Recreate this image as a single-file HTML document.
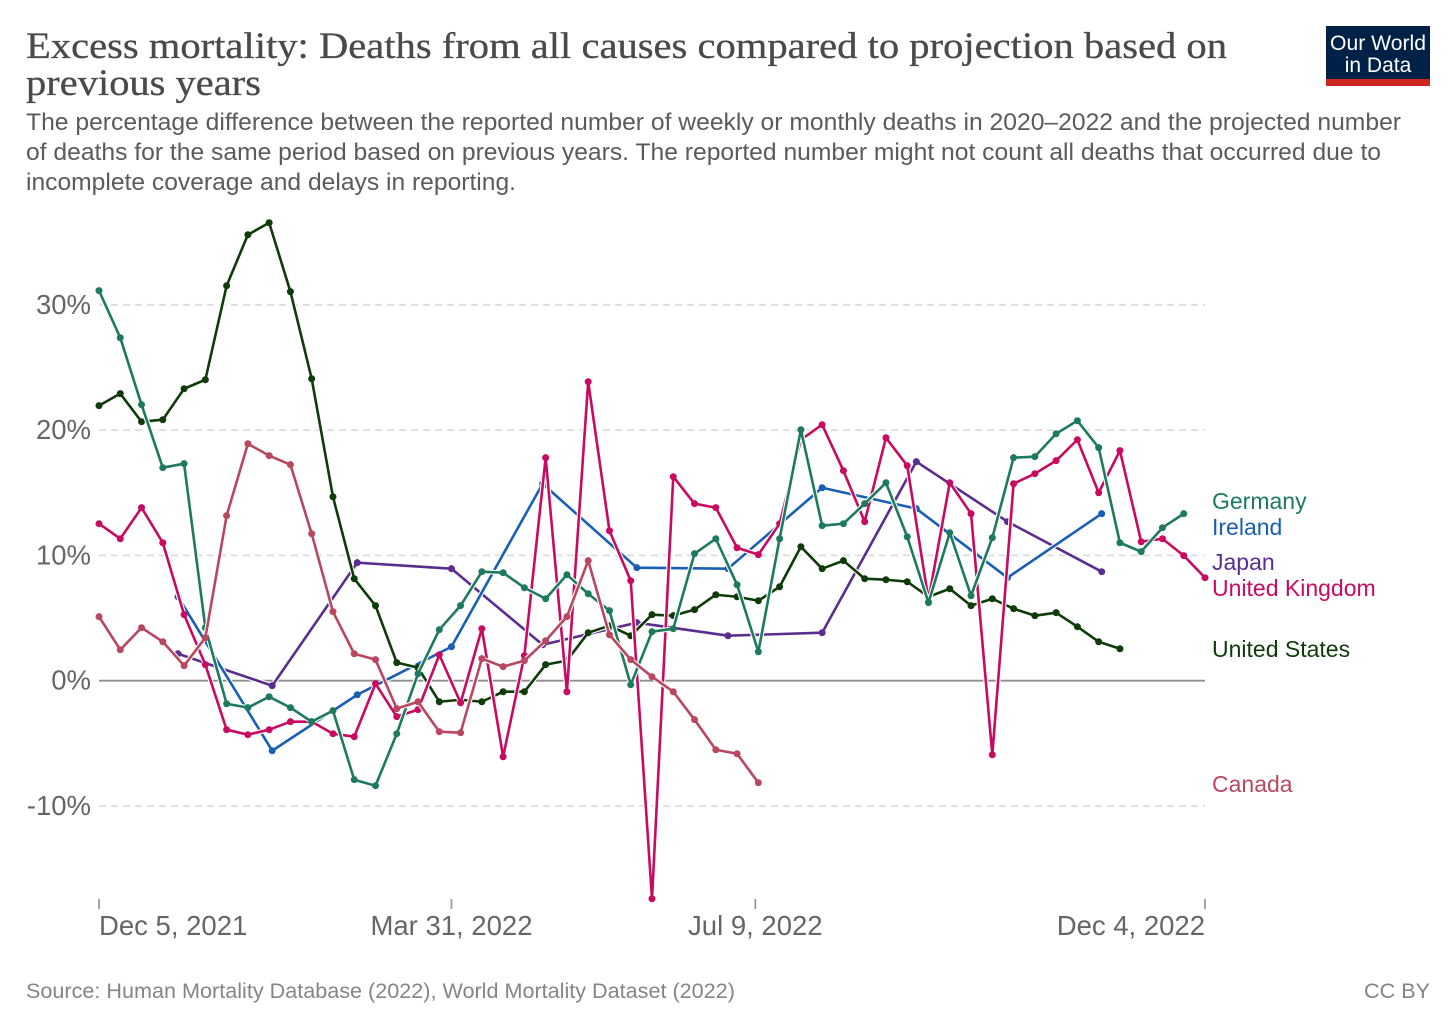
<!DOCTYPE html>
<html lang="en">
<head>
<meta charset="utf-8">
<title>Excess mortality chart</title>
<style>
html,body{margin:0;padding:0;background:#fff;}
svg{display:block;}
text{font-family:"Liberation Sans",sans-serif;}
</style>
</head>
<body>
<svg id="chart" xmlns="http://www.w3.org/2000/svg" width="1456" height="1028" viewBox="0 0 1456 1028">
  <rect x="0" y="0" width="1456" height="1028" fill="#ffffff"/>
  <g>
    <text x="26" y="58" textLength="1201" lengthAdjust="spacingAndGlyphs" style="font-family:'Liberation Serif',serif;font-size:37px" fill="#4a4a4a" stroke="#4a4a4a" stroke-width="0.3">Excess mortality: Deaths from all causes compared to projection based on</text>
    <text x="26" y="95" textLength="235" lengthAdjust="spacingAndGlyphs" style="font-family:'Liberation Serif',serif;font-size:37px" fill="#4a4a4a" stroke="#4a4a4a" stroke-width="0.3">previous years</text>
    <text x="26" y="130" textLength="1375" lengthAdjust="spacingAndGlyphs" font-size="24" fill="#5b5b5b">The percentage difference between the reported number of weekly or monthly deaths in 2020–2022 and the projected number</text>
    <text x="26" y="160" textLength="1355" lengthAdjust="spacingAndGlyphs" font-size="24" fill="#5b5b5b">of deaths for the same period based on previous years. The reported number might not count all deaths that occurred due to</text>
    <text x="26" y="190" textLength="490" lengthAdjust="spacingAndGlyphs" font-size="24" fill="#5b5b5b">incomplete coverage and delays in reporting.</text>
  </g>
  <g>
    <rect x="1326" y="26" width="104" height="60" fill="#002147"/>
    <rect x="1326" y="79" width="104" height="7" fill="#ce261e"/>
    <text x="1378" y="50" text-anchor="middle" font-size="21" fill="#ffffff" textLength="96" lengthAdjust="spacingAndGlyphs">Our World</text>
    <text x="1378" y="72" text-anchor="middle" font-size="21" fill="#ffffff">in Data</text>
  </g>
  <g id="grid"></g>
  <g id="yaxis"></g>
  <g id="xaxis"></g>
  <g id="series"></g>
  <g font-size="23">
    <text x="1212" y="509" fill="#1d7a5e">Germany</text>
    <text x="1212" y="535" fill="#1a5fb4">Ireland</text>
    <text x="1212" y="570" fill="#5b2d8e">Japan</text>
    <text x="1212" y="596" fill="#c80a60">United Kingdom</text>
    <text x="1212" y="657" fill="#0f3b0a">United States</text>
    <text x="1212" y="792" fill="#b8475f">Canada</text>
  </g>
  <g>
    <text x="26" y="998" font-size="21.6" fill="#858585">Source: Human Mortality Database (2022), World Mortality Dataset (2022)</text>
    <text x="1430" y="998" text-anchor="end" font-size="21.6" fill="#858585">CC BY</text>
  </g>
</svg>
<script>
const weeklyStart = '2021-12-05';
const monthlyDates = ['2021-12-31','2022-01-31','2022-02-28','2022-03-31','2022-04-30','2022-05-31','2022-06-30','2022-07-31','2022-08-31','2022-09-30','2022-10-31'];
const yTicks = [-10, 10, 20, 30];
const yTickLabels = ['-10%', '10%', '20%', '30%'];
const xTickDates = ['2021-12-05', '2022-03-31', '2022-07-09', '2022-12-04'];
const xTickLabels = ['Dec 5, 2021', 'Mar 31, 2022', 'Jul 9, 2022', 'Dec 4, 2022'];

const japanValues = [2.15, -0.4, 9.42, 8.94, 2.87, 4.63, 3.59, 3.83, 17.48, 12.69, 8.7];
const irelandValues = [6.7, -5.59, -1.12, 2.71, 15.72, 9.02, 8.94, 15.4, 13.73, 8.22, 13.33];
const unitedStatesValues = [21.95, 22.91, 20.67, 20.83, 23.3, 24.02, 31.52, 35.59, 36.55, 31.05, 24.1, 14.68, 8.14, 5.99, 1.44, 1.04, -1.68, -1.52, -1.68, -0.88, -0.88, 1.28, 1.6, 3.83, 4.39, 3.59, 5.27, 5.19, 5.67, 6.86, 6.7, 6.38, 7.5, 10.69, 8.94, 9.58, 8.14, 8.06, 7.9, 6.7, 7.34, 5.99, 6.54, 5.75, 5.19, 5.43, 4.31, 3.11, 2.55];
const unitedKingdomValues = [12.53, 11.33, 13.81, 11.01, 5.27, 1.28, -3.91, -4.31, -3.91, -3.27, -3.27, -4.23, -4.47, -0.24, -2.87, -2.31, 2.07, -1.76, 4.15, -6.07, 2.0, 17.8, -0.88, 23.86, 11.97, 7.98, -17.4, 16.28, 14.13, 13.81, 10.61, 10.06, 12.53, 19.23, 20.43, 16.76, 12.69, 19.39, 17.16, 6.46, 15.8, 13.33, -5.91, 15.72, 16.52, 17.56, 19.23, 15.0, 18.36, 11.09, 11.33, 9.98, 8.22];
const germanyValues = [31.13, 27.37, 22.03, 17.0, 17.32, 4.23, -1.84, -2.15, -1.28, -2.15, -3.27, -2.39, -7.9, -8.38, -4.23, 0.56, 4.07, 5.99, 8.7, 8.62, 7.42, 6.54, 8.46, 6.94, 5.59, -0.32, 3.91, 4.15, 10.14, 11.33, 7.66, 2.31, 11.33, 20.03, 12.37, 12.53, 14.13, 15.8, 11.49, 6.23, 11.81, 6.78, 11.41, 17.8, 17.88, 19.71, 20.75, 18.6, 11.01, 10.3, 12.21, 13.33];
const canadaValues = [5.11, 2.47, 4.23, 3.11, 1.2, 3.43, 13.17, 18.91, 17.96, 17.24, 11.73, 5.51, 2.15, 1.68, -2.23, -1.68, -4.07, -4.15, 1.76, 1.12, 1.6, 3.19, 5.11, 9.58, 3.67, 1.68, 0.32, -0.88, -3.11, -5.51, -5.83, -8.14];

const NS = 'http://www.w3.org/2000/svg';
const DAY = 86400000;
const t0 = Date.parse(weeklyStart);
function dayOf(dateStr) { return (Date.parse(dateStr) - t0) / DAY; }
function xScale(day) { return 99 + day * (1205 - 99) / 364; }
function yScale(v) { return 680.7 - v * 12.53; }
function weeklyDays(values) { return values.map(function (_, i) { return i * 7; }); }
function monthlyDays() { return monthlyDates.map(dayOf); }
function mk(tag, attrs, parent) {
  const el = document.createElementNS(NS, tag);
  for (const k in attrs) el.setAttribute(k, attrs[k]);
  parent.appendChild(el);
  return el;
}

const grid = document.getElementById('grid');
const yaxis = document.getElementById('yaxis');
const xaxis = document.getElementById('xaxis');
const seriesLayer = document.getElementById('series');

yTicks.forEach(function (v, i) {
  const line = mk('line', { x1: 99, x2: 1205, y1: yScale(v), y2: yScale(v), stroke: '#dddddd', 'stroke-width': 1.8, 'stroke-dasharray': '7 5' }, grid);
  
  
  const label = mk('text', { x: 91, y: yScale(v) + 9, 'text-anchor': 'end', 'font-size': 27.5, fill: '#666666' }, yaxis);
  label.textContent = yTickLabels[i];
  
  
});
const zeroLine = mk('line', { x1: 99, x2: 1205, y1: yScale(0), y2: yScale(0), stroke: '#8e8e8e', 'stroke-width': 1.8 }, grid);


const zeroLabel = mk('text', { x: 91, y: yScale(0) + 9, 'text-anchor': 'end', 'font-size': 27.5, fill: '#666666' }, yaxis);
zeroLabel.textContent = '0%';



xTickDates.forEach(function (d, i) {
  const x = xScale(dayOf(d));
  const tick = mk('line', { x1: x, x2: x, y1: 899, y2: 909, stroke: '#999999', 'stroke-width': 1.8 }, xaxis);
  
  
  const anchor = i === 0 ? 'start' : (i === xTickDates.length - 1 ? 'end' : 'middle');
  const label = mk('text', { x: x, y: 935, 'text-anchor': anchor, 'font-size': 27.5, fill: '#666666' }, xaxis);
  label.textContent = xTickLabels[i];
  
  
});

function drawSeries(name, color, days, values) {
  const g = mk('g', {}, seriesLayer);
  
  
  const pts = values.map(function (v, i) { return xScale(days[i]).toFixed(2) + ',' + yScale(v).toFixed(2); }).join(' ');
  const halo = mk('polyline', { points: pts, fill: 'none', stroke: '#ffffff', 'stroke-width': 4.8, 'stroke-linejoin': 'round' }, g);
  
  
  const line = mk('polyline', { points: pts, fill: 'none', stroke: color, 'stroke-width': 2.6, 'stroke-linejoin': 'round', 'stroke-linecap': 'round' }, g);
  
  
  values.forEach(function (v, i) {
    const dot = mk('circle', { cx: xScale(days[i]), cy: yScale(v), r: 3.5, fill: color }, g);
    
    
  });
}

drawSeries('japan', '#5b2d8e', monthlyDays(), japanValues);
drawSeries('ireland', '#1a5fb4', monthlyDays(), irelandValues);
drawSeries('united-states', '#0f3b0a', weeklyDays(unitedStatesValues), unitedStatesValues);
drawSeries('united-kingdom', '#c80a60', weeklyDays(unitedKingdomValues), unitedKingdomValues);
drawSeries('germany', '#1d7a5e', weeklyDays(germanyValues), germanyValues);
drawSeries('canada', '#b8475f', weeklyDays(canadaValues), canadaValues);
</script>
</body>
</html>
